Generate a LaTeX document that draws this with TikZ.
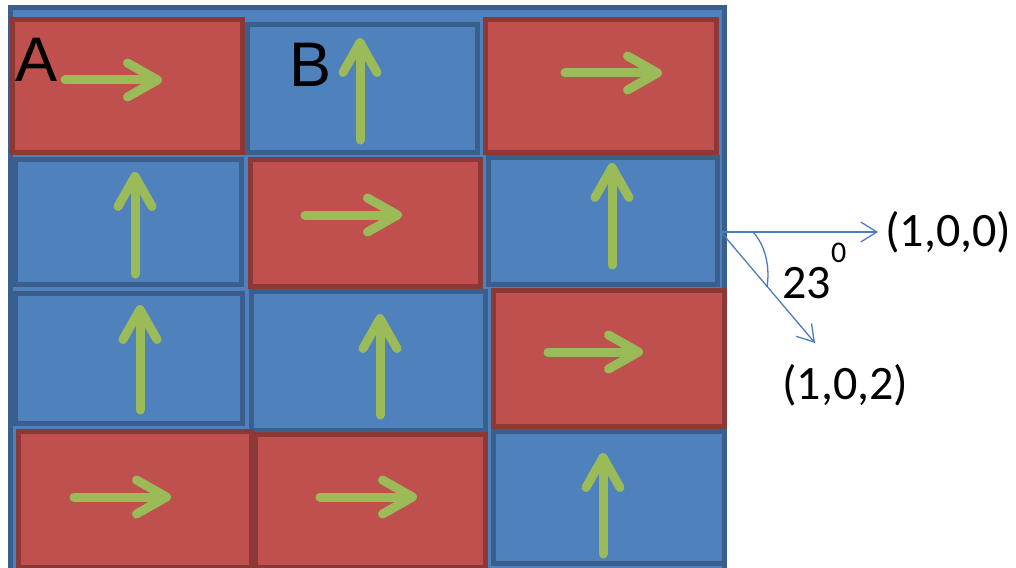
\documentclass[tikz,border=0pt]{standalone}
\usepackage{fontspec}
\setmainfont{Carlito}
\newfontfamily\arialf{Liberation Sans}
\usetikzlibrary{arrows.meta}
\definecolor{bfill}{HTML}{4F81BD}
\definecolor{bline}{HTML}{3A5F8D}
\definecolor{rfill}{HTML}{C0504D}
\definecolor{rline}{HTML}{8C3836}
\definecolor{grn}{HTML}{9BBB59}
\definecolor{thin}{HTML}{4A7EBB}
\tikzset{
  cellbox/.style={rectangle, inner sep=0pt, outer sep=0pt, line width=5pt},
  redcell/.style={cellbox, fill=rfill, draw=rline},
  bluecell/.style={cellbox, fill=bfill, draw=bline},
  spin/.style={draw=grn, line width=9pt, line cap=round, line join=round,
     -{Straight Barb[length=30pt, width=34pt, round]}},
  vec/.style={draw=thin, line width=1.3pt,
     -{Straight Barb[length=16pt, width=20pt]}},
  bigtxt/.style={font=\fontsize{48}{50}\selectfont, inner sep=0pt, anchor=base west},
  lettxt/.style={font=\arialf\fontsize{63}{66}\selectfont, inner sep=0pt, anchor=base west}
}
% \cellnode{name}{style}{x1}{y1}{x2}{y2}
\newcommand\cellnode[6]{%
  \node[#2, minimum width={(#5)-(#3)-5pt}, minimum height={(#6)-(#4)-5pt}]
    (#1) at ({((#3)+(#5))/2},{((#4)+(#6))/2}) {};}
\begin{document}
\begin{tikzpicture}[x=1pt, y=-1pt]
\useasboundingbox (0,0) rectangle (1016,567);
% background board
\node[bluecell, line width=5pt, minimum width=714pt, minimum height=570pt, anchor=north west]
  (board) at (10.5,7.5) {};
% cells
\cellnode{c11}{redcell}{10}{17}{245}{155}
\cellnode{c12}{bluecell}{245}{22}{480}{155}
\cellnode{c13}{redcell}{483}{17}{719}{155}
\cellnode{c21}{bluecell}{13}{157}{244}{287}
\cellnode{c22}{redcell}{248}{157}{483}{289}
\cellnode{c23}{bluecell}{486}{155}{720}{287}
\cellnode{c31}{bluecell}{13}{291}{245}{426}
\cellnode{c32}{bluecell}{249}{289}{488}{433}
\cellnode{c33}{redcell}{491}{288}{727}{429}
\cellnode{c41}{redcell}{16}{429}{254}{570}
\cellnode{c42}{redcell}{253}{432}{488}{570}
\cellnode{c43}{bluecell}{491}{429}{727}{566}
% spins
\coordinate (a1) at (65,80);   \coordinate (a2) at (162,80);
\coordinate (b1) at (360,140); \coordinate (b2) at (360,38);
\coordinate (c1) at (565,73);  \coordinate (c2) at (662,73);
\coordinate (d1) at (135,274); \coordinate (d2) at (135,172);
\coordinate (e1) at (305,215); \coordinate (e2) at (402,215);
\coordinate (f1) at (612,265); \coordinate (f2) at (612,163);
\coordinate (g1) at (140,410); \coordinate (g2) at (140,305);
\coordinate (h1) at (380,415); \coordinate (h2) at (380,314);
\coordinate (i1) at (548,352); \coordinate (i2) at (643,352);
\coordinate (j1) at (74,497);  \coordinate (j2) at (171,497);
\coordinate (k1) at (320,497); \coordinate (k2) at (417,497);
\coordinate (l1) at (603,554); \coordinate (l2) at (603,453);
\foreach \p in {a,b,c,d,e,f,g,h,i,j,k,l}{\draw[spin] (\p1) -- (\p2);}
% letters
\node[lettxt] (labA) at (15,82) {A};
\node[lettxt] (labB) at (289,87) {B};
% direction vectors
\coordinate (o) at (721,232);
\coordinate (v1) at (878,232);
\coordinate (v2) at (815,343);
\draw[vec] (o) -- (v1);
\draw[vec] (o) -- (v2);
\draw[draw=thin, line width=1.3pt] (753,232) .. controls (766,246) and (770,268) .. (767,287);
\node[bigtxt] (t100) at (885,246) {(1,0,0)};
\node[bigtxt] (t102) at (782,399) {(1,0,2)};
\node[bigtxt] (ang) at (782,298) {23};
\node[bigtxt, font=\fontsize{30}{32}\selectfont] (deg) at (831,262) {0};
\end{tikzpicture}
\end{document}
